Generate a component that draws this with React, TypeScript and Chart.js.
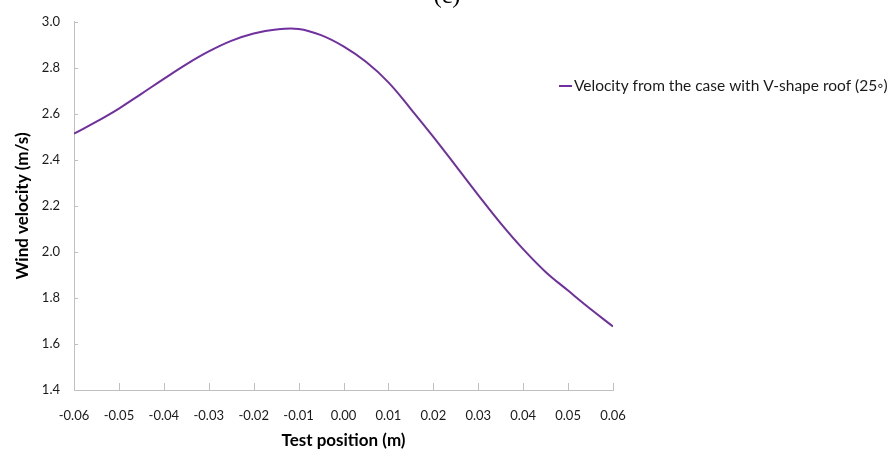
import { useEffect, useRef } from "react";
import { Chart, registerables } from "chart.js";

Chart.register(...registerables);

const positions = [
  -0.06, -0.055, -0.05, -0.045, -0.04, -0.035, -0.03, -0.025, -0.02, -0.015, -0.01, -0.005,
  0.0, 0.005, 0.01, 0.015, 0.02, 0.025, 0.03, 0.035, 0.04, 0.045, 0.05, 0.055, 0.06,
];
const velocities = [
  2.514, 2.566, 2.623, 2.687, 2.752, 2.815, 2.871, 2.917, 2.949, 2.967, 2.969, 2.942,
  2.893, 2.826, 2.737, 2.621, 2.5, 2.374, 2.247, 2.124, 2.012, 1.913, 1.832, 1.752, 1.676,
];
const seriesLabel = "Velocity from the case with V-shape roof (25\u25E6)";
const xTitle = "Test position (m)";
const yTitle = "Wind velocity (m/s)";
const caption = "(c)";
const xMin = -0.06;
const xMax = 0.06;
const xStep = 0.01;
const yMin = 1.4;
const yMax = 3.0;
const yStep = 0.2;

const LINE_COLOR = "#7030a0";
const AXIS_COLOR = "#c0c0c0";
const FONT = "Lato, 'Open Sans', sans-serif";

export default function App() {
  const ref = useRef<HTMLCanvasElement | null>(null);

  useEffect(() => {
    if (!ref.current) return;
    const extras = {
      id: "extras",
      afterDraw(chart: any) {
        const { ctx, chartArea } = chart;
        const xs = chart.scales.x;
        const ys = chart.scales.y;
        ctx.save();
        ctx.strokeStyle = AXIS_COLOR;
        ctx.lineWidth = 1;
        ctx.beginPath();
        xs.ticks.forEach((t: any) => {
          const px = Math.round(xs.getPixelForValue(t.value)) + 0.5;
          ctx.moveTo(px, chartArea.bottom);
          ctx.lineTo(px, chartArea.bottom - 7);
        });
        ys.ticks.forEach((t: any) => {
          const py = Math.round(ys.getPixelForValue(t.value)) + 0.5;
          ctx.moveTo(chartArea.left, py);
          ctx.lineTo(chartArea.left + 4, py);
        });
        ctx.stroke();

        // legend
        const ds = chart.data.datasets[0];
        const ly = 86;
        ctx.strokeStyle = ds.borderColor;
        ctx.lineWidth = 2;
        ctx.beginPath();
        ctx.moveTo(559, ly);
        ctx.lineTo(572, ly);
        ctx.stroke();
        ctx.fillStyle = "#1a1a1a";
        ctx.font = `15.5px ${FONT}`;
        ctx.textBaseline = "middle";
        ctx.textAlign = "left";
        ctx.fillText(ds.label, 574, ly);

        // caption (cut off at top)
        ctx.font = `24px 'Liberation Serif', serif`;
        ctx.textAlign = "center";
        ctx.textBaseline = "alphabetic";
        ctx.fillStyle = "#000";
        ctx.fillText(caption, 447, 3);
        ctx.restore();
      },
    };

    const chart = new Chart(ref.current, {
      type: "line",
      data: {
        datasets: [
          {
            label: seriesLabel,
            data: positions.map((p, i) => ({ x: p, y: velocities[i] })),
            borderColor: LINE_COLOR,
            backgroundColor: LINE_COLOR,
            borderWidth: 2,
            pointRadius: 0,
            tension: 0.4,
            fill: false,
          },
        ],
      },
      options: {
        animation: false,
        responsive: false,
        maintainAspectRatio: false,
        layout: { padding: { top: 17, right: 278, left: 0, bottom: 0 } },
        plugins: {
          legend: { display: false },
          tooltip: { enabled: false },
        },
        scales: {
          x: {
            type: "linear",
            min: xMin,
            max: xMax,
            afterFit: (s: any) => {
              s.height = 66;
            },
            ticks: {
              stepSize: xStep,
              padding: 18,
              color: "#1a1a1a",
              font: { family: FONT, size: 13 },
              maxRotation: 0,
              callback: (v: any) => (Math.abs(Number(v)) < 1e-9 ? 0 : Number(v)).toFixed(2),
            },
            grid: { display: false, drawTicks: false },
            border: { display: true, color: AXIS_COLOR, width: 1 },
            title: {
              display: true,
              text: xTitle,
              color: "#000",
              font: { family: FONT, size: 17, weight: "bold" },
              padding: { top: 0, bottom: 5 },
            },
          },
          y: {
            type: "linear",
            min: yMin,
            max: yMax,
            afterFit: (s: any) => {
              s.width = 74;
            },
            ticks: {
              stepSize: yStep,
              padding: 14,
              color: "#1a1a1a",
              font: { family: FONT, size: 13 },
              callback: (v: any) => Number(v).toFixed(1),
            },
            grid: { display: false, drawTicks: false },
            border: { display: true, color: AXIS_COLOR, width: 1 },
            title: {
              display: true,
              text: yTitle,
              color: "#000",
              font: { family: FONT, size: 17, weight: "bold" },
              padding: { top: 12, bottom: 0 },
            },
          },
        },
      },
      plugins: [extras],
    } as any);
    return () => chart.destroy();
  }, []);

  return (
    <div style={{ position: "absolute", left: 0, top: 0, width: 891, height: 456, background: "#fff" }}>
      <canvas ref={ref} width={891} height={456} style={{ display: "block" }} />
    </div>
  );
}
